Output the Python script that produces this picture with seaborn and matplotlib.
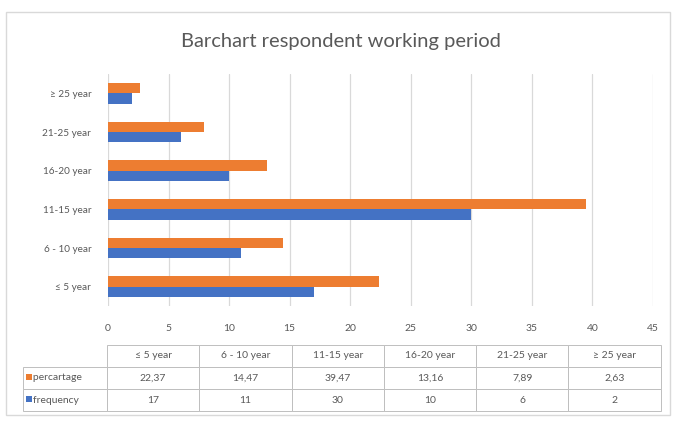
import matplotlib
matplotlib.use("Agg")
import matplotlib.pyplot as plt
from matplotlib.patches import Rectangle
import pandas as pd
import seaborn as sns

# Working-period groups (as drawn top to bottom) and the two series
periods = ["≥ 25 year", "21-25 year", "16-20 year", "11-15 year", "6 - 10 year", "≤ 5 year"]
percentage = [2.63, 7.89, 13.16, 39.47, 14.47, 22.37]
frequency = [2, 6, 10, 30, 11, 17]

# Data table columns (left to right)
table_periods = ["≤ 5 year", "6 - 10 year", "11-15 year", "16-20 year", "21-25 year", "≥ 25 year"]
table_pct = ["22,37", "14,47", "39,47", "13,16", "7,89", "2,63"]
table_freq = ["17", "11", "30", "10", "6", "2"]
series_names = ["percartage", "frequency"]

ORANGE = "#ED7D31"
BLUE = "#4472C4"
TXT = "#595959"
GRID = "#D9D9D9"

sns.set_theme(style="white")
plt.rcParams["font.family"] = ["Lato", "DejaVu Sans"]

df = pd.DataFrame({
    "period": periods * 2,
    "value": percentage + frequency,
    "series": [series_names[0]] * len(periods) + [series_names[1]] * len(periods),
})

W, H = 673, 423
fig = plt.figure(figsize=(W / 100, H / 100), dpi=100)

# Plot area in pixels
L, R, T, B = 108, 653, 74, 306
ax = fig.add_axes([L / W, (H - B) / H, (R - L) / W, (B - T) / H])

sns.barplot(data=df, x="value", y="period", hue="series", order=periods,
            hue_order=series_names, palette=[ORANGE, BLUE], orient="h",
            width=0.54, saturation=1, linewidth=0, ax=ax, legend=False)

ax.set_xlim(0, 45)
ax.set_xticks(range(0, 46, 5))
ax.set_xlabel("")
ax.set_ylabel("")
ax.xaxis.grid(True, color=GRID, linewidth=0.9)
ax.set_axisbelow(True)
for s in ax.spines.values():
    s.set_visible(False)
ax.tick_params(axis="x", length=0, pad=13, labelsize=7.5, labelcolor=TXT)
ax.tick_params(axis="y", length=0, pad=12, labelsize=7.2, labelcolor=TXT)

# Chart title
fig.text(341 / W, 1 - 42 / H, "Barchart respondent working period",
         ha="center", va="center", fontsize=14.5, color=TXT)

# Data table under the axis; first column holds the series names
row_label_w, col_w = 84.3, 92.3
tbl_left, tbl_top, tbl_bot = 22.7, 345, 411
tbl_right = tbl_left + row_label_w + 6 * col_w
bbox = [(tbl_left - L) / (R - L), (B - tbl_bot) / (B - T),
        (tbl_right - tbl_left) / (R - L), (tbl_bot - tbl_top) / (B - T)]
rows = [["   " + series_names[0]] + table_pct,
        ["   " + series_names[1]] + table_freq]
tbl = ax.table(cellText=rows, colLabels=[""] + table_periods,
               colWidths=[row_label_w] + [col_w] * 6,
               cellLoc="center", colLoc="center", bbox=bbox)
tbl.auto_set_font_size(False)
for (r, c), cell in tbl.get_celld().items():
    cell.set_edgecolor("#BFBFBF")
    cell.set_linewidth(0.7)
    cell.set_facecolor("white")
    cell.get_text().set_fontsize(7.5)
    cell.get_text().set_color(TXT)
    if c == 0:
        cell.get_text().set_horizontalalignment("left")
        cell.PAD = 0.03
    if r == 0 and c == 0:
        cell.visible_edges = ""

# Legend keys inside the series-name cells
for i, col in enumerate([ORANGE, BLUE]):
    yc = 377 + i * 22
    fig.patches.append(Rectangle(((tbl_left + 3) / W, 1 - (yc + 3) / H), 6 / W, 6 / H,
                                 transform=fig.transFigure, facecolor=col,
                                 edgecolor="none", zorder=5))

# Chart area border
fig.patches.append(Rectangle((5.5 / W, 1 - 415 / H), 664 / W, 403 / H,
                             transform=fig.transFigure, facecolor="none",
                             edgecolor="#D9D9D9", linewidth=1.0, zorder=0))

fig.savefig("out.png", dpi=100)
